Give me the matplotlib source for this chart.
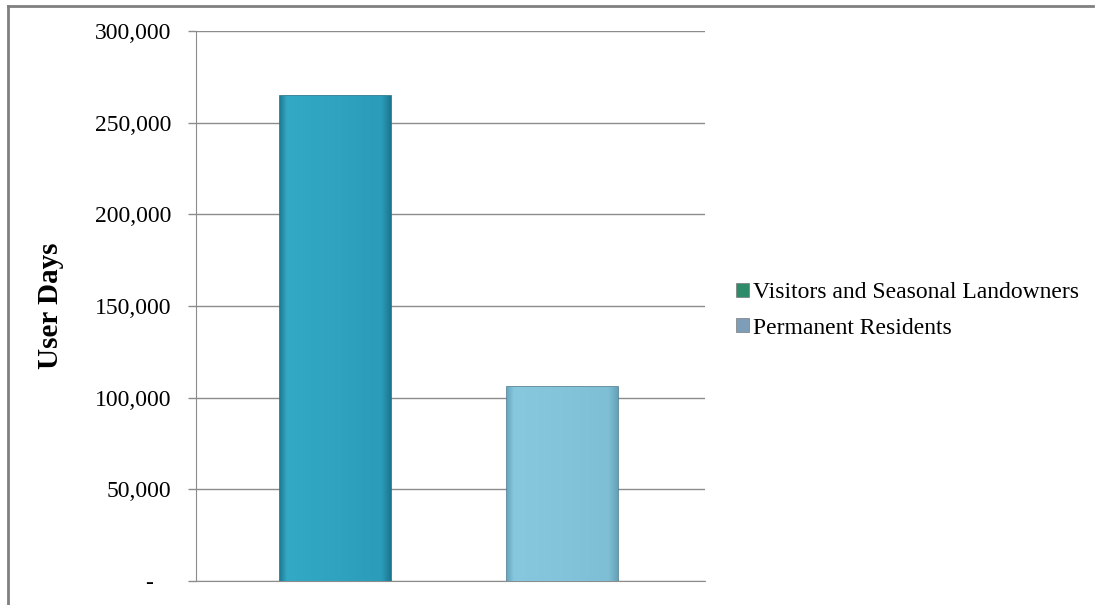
import numpy as np
import matplotlib
matplotlib.use("Agg")
import matplotlib.pyplot as plt
from matplotlib.lines import Line2D
from matplotlib.patches import Patch
from matplotlib.colors import LinearSegmentedColormap

groups = ["Visitors and Seasonal Landowners", "Permanent Residents"]
user_days = [264500, 105800]
yticks = [0, 50000, 100000, 150000, 200000, 250000, 300000]
ytick_labels = ["-   ", "50,000", "100,000", "150,000", "200,000", "250,000", "300,000"]

bar_colors = ["#2ea2bf", "#80c2d8"]
bar_edges = ["#1d7088", "#4f7f93"]
shades = [
    [(0.0, "#1f7f98"), (0.06, "#33a9c6"), (0.5, "#2fa3c0"), (0.92, "#2b9cb9"), (1.0, "#1c7890")],
    [(0.0, "#6aa9bf"), (0.06, "#88c8de"), (0.5, "#83c4da"), (0.92, "#7fbfd5"), (1.0, "#65a2b8")],
]
legend_colors = ["#2e8c6a", "#7d9db8"]

plt.rcParams["font.family"] = ["Liberation Serif", "DejaVu Serif"]

fig = plt.figure(figsize=(10.95, 6.05), dpi=100)
ax = fig.add_axes([0.179, 0.0397, 0.4648, 0.9091])

x = np.arange(len(groups))
bars = ax.bar(x, user_days, width=0.49, color=bar_colors, edgecolor=bar_edges,
              linewidth=1.2, zorder=3)

# horizontal shading across each bar
for b, sh in zip(bars, shades):
    cmap = LinearSegmentedColormap.from_list("bar", sh)
    grad = np.linspace(0, 1, 128).reshape(1, -1)
    im = ax.imshow(grad, cmap=cmap, aspect="auto", zorder=3.5,
                   extent=[b.get_x(), b.get_x() + b.get_width(), 0, b.get_height()])
    im.set_clip_path(b)

ax.set_xlim(-0.616, 1.631)
ax.set_ylim(0, 300000)
ax.set_yticks(yticks)
ax.set_yticklabels(ytick_labels, fontsize=17)
ax.set_xticks([])
ax.yaxis.grid(True, color="#8c8c8c", linewidth=1.0, zorder=0)
ax.tick_params(axis="y", length=6, width=1.0, color="#8c8c8c", pad=12)

for side in ["top", "right"]:
    ax.spines[side].set_visible(False)
ax.spines["left"].set_color("#8c8c8c")
ax.spines["bottom"].set_color("#8c8c8c")

ax.set_ylabel("User Days", fontsize=21, fontweight="bold", labelpad=22)

handles = [Patch(facecolor=c, edgecolor="#7a7a7a", linewidth=0.5) for c in legend_colors]
fig.legend(handles, groups, loc="center left", bbox_to_anchor=(0.653, 0.487),
           frameon=False, fontsize=17, handlelength=0.55, handleheight=0.55,
           handletextpad=0.15, labelspacing=0.62)

# outer chart frame: top and left edges
fig.add_artist(Line2D([0.0073, 0.998], [0.990, 0.990], color="#808080", linewidth=2))
fig.add_artist(Line2D([0.0073, 0.0073], [0.0, 0.990], color="#808080", linewidth=2))

fig.savefig("out.png", dpi=100)
